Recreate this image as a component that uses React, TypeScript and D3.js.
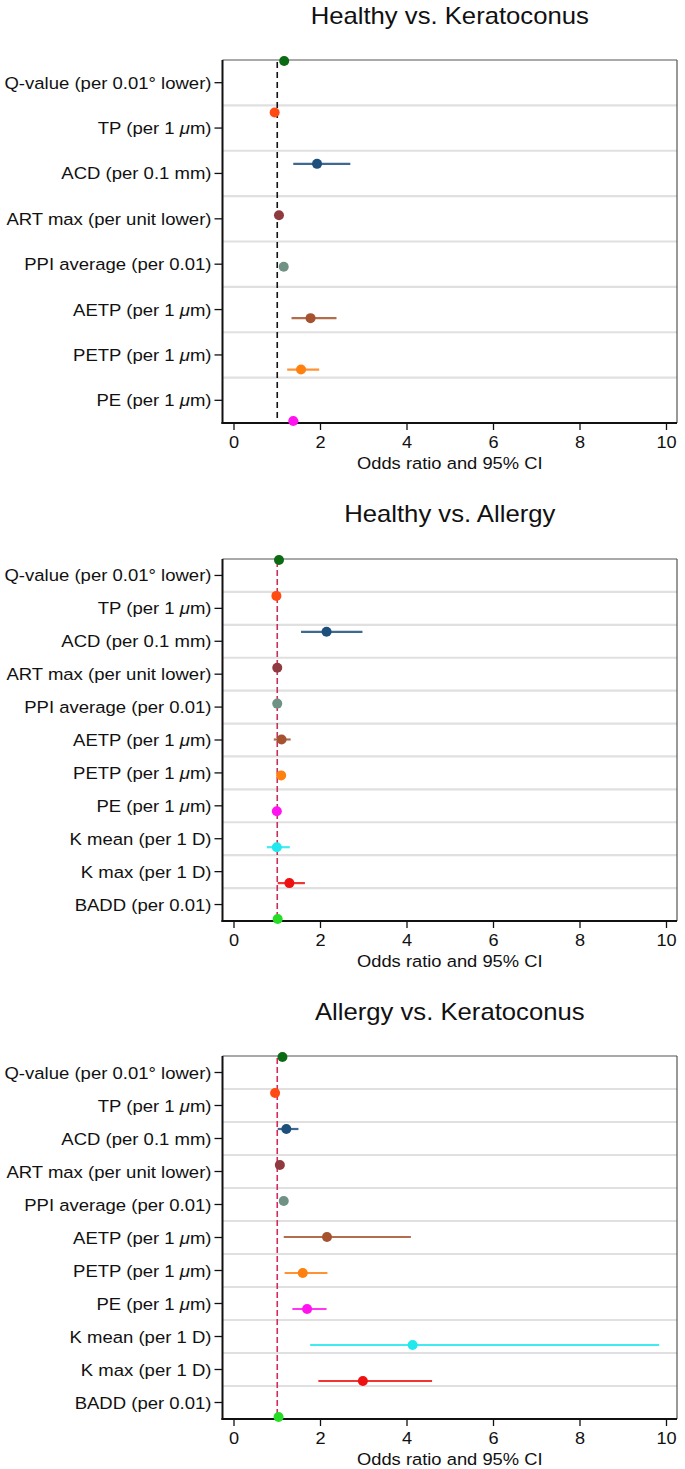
import { useEffect, useRef } from 'react';
import * as d3 from 'd3';

// row labels
const labels8 = [
  "Q-value (per 0.01° lower)",
  "TP (per 1 μm)",
  "ACD (per 0.1 mm)",
  "ART max (per unit lower)",
  "PPI average (per 0.01)",
  "AETP (per 1 μm)",
  "PETP (per 1 μm)",
  "PE (per 1 μm)",
];
const labels11 = [...labels8, "K mean (per 1 D)", "K max (per 1 D)", "BADD (per 0.01)"];

const rowColors = [
  "#0b6b12", "#ff4a12", "#1d4f7c", "#8e3a3f", "#6f9284", "#a4532e",
  "#ff7f0f", "#ff14f0", "#1fe8ee", "#ee1111", "#26dd26",
];

const xTicks = [0, 2, 4, 6, 8, 10];

// Healthy vs. Keratoconus
const hkOr = [1.16, 0.94, 1.92, 1.04, 1.15, 1.77, 1.55, 1.37];
const hkLo = [1.13, 0.92, 1.37, 1.01, 1.1, 1.33, 1.23, 1.27];
const hkHi = [1.19, 0.96, 2.69, 1.07, 1.2, 2.37, 1.97, 1.49];

// Healthy vs. Allergy
const haOr = [1.04, 0.98, 2.14, 1.0, 1.0, 1.1, 1.09, 0.99, 0.99, 1.28, 1.01];
const haLo = [1.02, 0.96, 1.55, 0.98, 0.98, 0.92, 1.0, 0.97, 0.76, 1.01, 0.99];
const haHi = [1.06, 1.0, 2.97, 1.02, 1.02, 1.31, 1.18, 1.01, 1.29, 1.64, 1.03];

// Allergy vs. Keratoconus
const akOr = [1.12, 0.95, 1.21, 1.06, 1.15, 2.15, 1.59, 1.69, 4.13, 2.98, 1.03];
const akLo = [1.09, 0.93, 1.01, 1.02, 1.12, 1.15, 1.17, 1.35, 1.76, 1.95, 1.0];
const akHi = [1.15, 0.97, 1.49, 1.1, 1.18, 4.09, 2.16, 2.14, 9.83, 4.58, 1.06];

const panels = [
  { title: "Healthy vs. Keratoconus", titleY: 24, top: 60, bottom: 423, labels: labels8, or: hkOr, lo: hkLo, hi: hkHi, refColor: "#111", refDash: "6,4" },
  { title: "Healthy vs. Allergy", titleY: 522, top: 559, bottom: 921, labels: labels11, or: haOr, lo: haLo, hi: haHi, refColor: "#c8305c", refDash: "6,3" },
  { title: "Allergy vs. Keratoconus", titleY: 1020, top: 1056, bottom: 1419, labels: labels11, or: akOr, lo: akLo, hi: akHi, refColor: "#d42a5c", refDash: "6,3" },
];

const FONT = "'Liberation Sans', Arial, Helvetica, sans-serif";

const App = () => {
  const svgRef = useRef<SVGSVGElement>(null);

  useEffect(() => {
    document.body.style.margin = "0";
    const svg = d3.select(svgRef.current);
    svg.selectAll("*").remove();

    const left = 222.5;
    const right = 677;
    const x = d3.scaleLinear().domain([0, 10]).range([234, 666.5]);

    // text in the source is a bit stretched sideways
    const addText = (sel, tx, ty, size, sx, anchor) =>
      sel.append("text")
        .attr("transform", `translate(${tx},${ty}) scale(${sx},1)`)
        .attr("text-anchor", anchor)
        .style("font-family", FONT)
        .style("font-size", size + "px")
        .style("fill", "#111");

    panels.forEach(p => {
      const g = svg.append("g");
      const idx = p.labels.map((_, i) => i);

      // labels sit in bands, markers on points spanning the whole box
      const yBand = d3.scaleBand<number>().domain(idx).range([p.top, p.bottom]);
      const yPt = d3.scalePoint<number>().domain(idx).range([p.top + 1, p.bottom - 2]);

      addText(g, (left + right) / 2, p.titleY, 24, 1.07, "middle").text(p.title);

      // grid lines between rows
      g.selectAll(".grid")
        .data(idx.slice(1))
        .enter().append("line")
        .attr("x1", left)
        .attr("x2", right)
        .attr("y1", d => yBand(d)!)
        .attr("y2", d => yBand(d)!)
        .attr("stroke", "#e0e0e0")
        .attr("stroke-width", 2.2);

      // box
      g.append("line").attr("x1", left).attr("x2", right).attr("y1", p.top).attr("y2", p.top)
        .attr("stroke", "#555").attr("stroke-width", 1.2);
      g.append("line").attr("x1", right).attr("x2", right).attr("y1", p.top).attr("y2", p.bottom)
        .attr("stroke", "#555").attr("stroke-width", 1.2);
      g.append("line").attr("x1", left).attr("x2", left).attr("y1", p.top).attr("y2", p.bottom + 1)
        .attr("stroke", "#111").attr("stroke-width", 2);
      g.append("line").attr("x1", left - 1).attr("x2", right).attr("y1", p.bottom).attr("y2", p.bottom)
        .attr("stroke", "#111").attr("stroke-width", 2);

      // left ticks and labels
      const rows = g.selectAll(".row")
        .data(p.labels)
        .enter().append("g")
        .attr("transform", (d, i) => `translate(0,${yBand(i)! + yBand.bandwidth() / 2})`);

      rows.append("line")
        .attr("x1", left - 8)
        .attr("x2", left)
        .attr("stroke", "#111")
        .attr("stroke-width", 1.3);

      rows.each(function (d) {
        const t = addText(d3.select(this), left - 11, 6, 17, 1.09, "end");
        const parts = d.split("μ");
        parts.forEach((s, k) => {
          if (k > 0) t.append("tspan").style("font-style", "italic").text("μ");
          t.append("tspan").text(s);
        });
      });

      // bottom axis
      const ticks = g.selectAll(".xt")
        .data(xTicks)
        .enter().append("g")
        .attr("transform", d => `translate(${x(d)},${p.bottom})`);

      ticks.append("line").attr("y2", 7).attr("stroke", "#111").attr("stroke-width", 1.3);
      ticks.each(function (d) {
        addText(d3.select(this), 0, 25, 16.5, 1.1, "middle").text(d);
      });

      addText(g, (left + right) / 2, p.bottom + 46, 17, 1.08, "middle").text("Odds ratio and 95% CI");

      // reference line at OR = 1
      g.append("line")
        .attr("x1", x(1))
        .attr("x2", x(1))
        .attr("y1", p.top + 2)
        .attr("y2", p.bottom)
        .attr("stroke", p.refColor)
        .attr("stroke-width", 1.6)
        .attr("stroke-dasharray", p.refDash);

      // CI lines and points
      g.selectAll(".ci")
        .data(idx)
        .enter().append("line")
        .attr("x1", i => x(p.lo[i]))
        .attr("x2", i => x(p.hi[i]))
        .attr("y1", i => yPt(i)!)
        .attr("y2", i => yPt(i)!)
        .attr("stroke", i => rowColors[i])
        .attr("stroke-opacity", 0.85)
        .attr("stroke-width", 2.2);

      g.selectAll(".pt")
        .data(idx)
        .enter().append("circle")
        .attr("cx", i => x(p.or[i]))
        .attr("cy", i => yPt(i)!)
        .attr("r", 5)
        .attr("fill", i => rowColors[i]);
    });
  }, []);

  return (
    <div>
      <svg ref={svgRef} width={685} height={1469} style={{ display: "block", background: "#fff" }}></svg>
    </div>
  );
};

export default App;
